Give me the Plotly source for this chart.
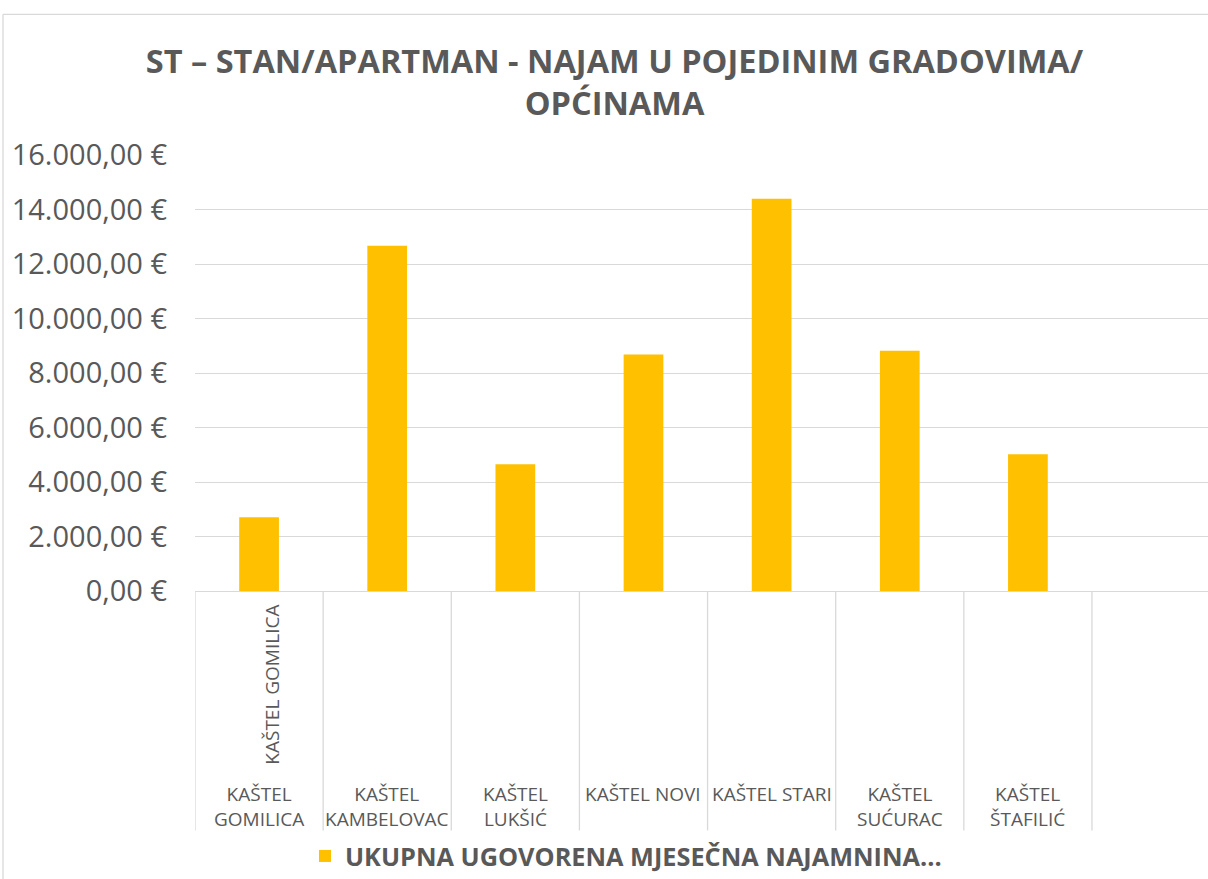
import plotly.graph_objects as go

# ---- data ----
categories = ["KAŠTEL GOMILICA", "KAŠTEL KAMBELOVAC", "KAŠTEL LUKŠIĆ", "KAŠTEL NOVI",
              "KAŠTEL STARI", "KAŠTEL SUĆURAC", "KAŠTEL ŠTAFILIĆ"]
category_labels = ["KAŠTEL<br>GOMILICA", "KAŠTEL<br>KAMBELOVAC", "KAŠTEL<br>LUKŠIĆ", "KAŠTEL NOVI",
                   "KAŠTEL STARI", "KAŠTEL<br>SUĆURAC", "KAŠTEL<br>ŠTAFILIĆ"]
inner_labels = ["KAŠTEL GOMILICA", "", "", "", "", "", ""]
values = [2710, 12670, 4650, 8680, 14390, 8820, 5020]
series_name = "UKUPNA UGOVORENA MJESEČNA NAJAMNINA..."
y_ticks = [0, 2000, 4000, 6000, 8000, 10000, 12000, 14000, 16000]
y_tick_text = ["0,00 €", "2.000,00 €", "4.000,00 €", "6.000,00 €", "8.000,00 €",
               "10.000,00 €", "12.000,00 €", "14.000,00 €", "16.000,00 €"]
title_text = "ST – STAN/APARTMAN - NAJAM U POJEDINIM GRADOVIMA/<br>OPĆINAMA"

W, H = 1208, 879
L, R, T, B = 195, 0, 155, 287
plot_h = H - T - B
band_px = 128.14
x_max = -0.5 + (W - L - R) / band_px

def py(pix):  # pixel y -> paper y
    return (H - B - pix) / plot_h

def px(pix):  # pixel x -> paper x
    return (pix - L) / (W - L - R)

grey = "#595959"
line_grey = "#d9d9d9"
FONT = "Open Sans"

x_idx = list(range(len(categories)))

fig = go.Figure()
fig.add_trace(go.Bar(
    x=x_idx, y=values, name=series_name, width=0.31,
    marker=dict(color="#FFC000", line=dict(width=0)),
    showlegend=True,
))

shapes = []
# category dividers
for i in range(len(categories) + 1):
    shapes.append(dict(type="line", xref="x", yref="paper", x0=i - 0.5, x1=i - 0.5,
                       y0=0, y1=py(832), line=dict(color=line_grey, width=1.3)))
# chart border (left and top)
shapes.append(dict(type="line", xref="paper", yref="paper", x0=px(3), x1=px(3),
                   y0=py(14), y1=py(H + 5), line=dict(color=line_grey, width=1.3)))
shapes.append(dict(type="line", xref="paper", yref="paper", x0=px(3), x1=px(W + 20),
                   y0=py(14), y1=py(14), line=dict(color=line_grey, width=1.3)))

annotations = []
for i, lab in enumerate(category_labels):
    annotations.append(dict(x=i, xref="x", y=py(780), yref="paper", text=lab,
                            showarrow=False, yanchor="top", xanchor="center",
                            font=dict(family=FONT, size=19, color=grey), align="center"))
for i, lab in enumerate(inner_labels):
    if lab:
        annotations.append(dict(x=i + 0.1, xref="x", y=py(686), yref="paper", text=lab,
                                showarrow=False, textangle=-90, yanchor="middle", xanchor="center",
                                font=dict(family=FONT, size=19, color=grey)))

fig.update_layout(
    width=W, height=H,
    margin=dict(l=L, r=R, t=T, b=B),
    paper_bgcolor="white", plot_bgcolor="white",
    title=dict(text=title_text, x=614.5 / W, xref="container", xanchor="center",
               y=1 - 73 / H, yref="container", yanchor="top",
               font=dict(family=FONT, size=32.5, color=grey, weight="bold")),
    xaxis=dict(range=[-0.5, x_max], showticklabels=False, showgrid=False, zeroline=False,
               ticks="", showline=False, fixedrange=True),
    yaxis=dict(range=[0, 16000], tickvals=y_ticks, ticktext=y_tick_text,
               showgrid=True, gridcolor=line_grey, gridwidth=1.3, zeroline=True,
               zerolinecolor=line_grey, zerolinewidth=1.3, showline=False, ticks="",
               ticklabelstandoff=27,
               tickfont=dict(family=FONT, size=29, color=grey)),
    showlegend=True,
    legend=dict(orientation="h", x=px(305), xanchor="left", y=py(857), yanchor="middle",
                font=dict(family=FONT, size=25.3, color=grey, weight="bold"),
                bgcolor="rgba(0,0,0,0)"),
    shapes=shapes, annotations=annotations,
    bargap=0.69,
)

fig.write_html("out.html", config={"displayModeBar": False},
               post_script="document.body.style.margin='0';document.body.style.overflow='hidden';")
